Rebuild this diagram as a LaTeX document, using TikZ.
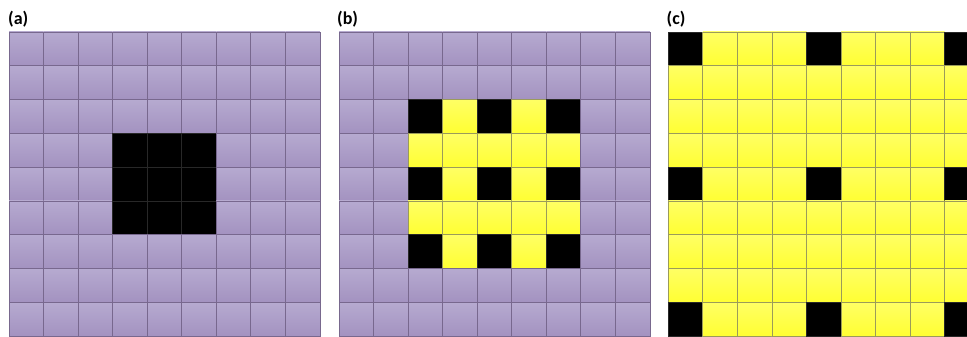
\documentclass[tikz,border=0pt]{standalone}
\usepackage{fontspec}
\setmainfont{Carlito}
\definecolor{purtop}{RGB}{182,170,208}
\definecolor{purbot}{RGB}{163,146,192}
\definecolor{purline}{RGB}{120,104,142}
\definecolor{yeltop}{RGB}{255,255,100}
\definecolor{yelbot}{RGB}{255,255,50}
\definecolor{yelline}{RGB}{155,155,90}
\definecolor{blkline}{RGB}{40,40,40}
\tikzset{
  purplecell/.style={top color=purtop,bottom color=purbot,draw=purline,line width=0.8pt},
  yellowcell/.style={top color=yeltop,bottom color=yelbot,draw=yelline,line width=0.8pt},
  blackcell/.style={fill=black,draw=blkline,line width=0.8pt},
  panellabel/.style={font=\bfseries\fontsize{18}{18}\selectfont,anchor=base west,inner sep=0pt}
}
\begin{document}
\begin{tikzpicture}[x=1pt,y=1pt]
\clip (0,0) rectangle (967,337);
\fill[white] (0,0) rectangle (967,337);
\def\cw{34.55}
\def\ch{33.8}
% panel (a)
\foreach \i in {0,...,8}{\foreach \j in {0,...,8}{
  \pgfmathtruncatemacro{\t}{(\i>2)&&(\i<6)&&(\j>2)&&(\j<6)}
  \ifnum\t=1
    \path[blackcell] ({9+\i*\cw},{305-\j*\ch}) rectangle ++(\cw,-\ch);
  \else
    \path[purplecell] ({9+\i*\cw},{305-\j*\ch}) rectangle ++(\cw,-\ch);
  \fi
}}
% panel (b)
\foreach \i in {0,...,8}{\foreach \j in {0,...,8}{
  \pgfmathtruncatemacro{\inn}{(\i>1)&&(\i<7)&&(\j>1)&&(\j<7)}
  \pgfmathtruncatemacro{\blk}{\inn && (mod(\i,2)==0) && (mod(\j,2)==0)}
  \ifnum\inn=0
    \path[purplecell] ({339+\i*\cw},{305-\j*\ch}) rectangle ++(\cw,-\ch);
  \else
    \ifnum\blk=1
      \path[blackcell] ({339+\i*\cw},{305-\j*\ch}) rectangle ++(\cw,-\ch);
    \else
      \path[yellowcell] ({339+\i*\cw},{305-\j*\ch}) rectangle ++(\cw,-\ch);
    \fi
  \fi
}}
% panel (c)
\foreach \i in {0,...,8}{\foreach \j in {0,...,8}{
  \pgfmathtruncatemacro{\blk}{(mod(\i,4)==0) && (mod(\j,4)==0)}
  \ifnum\blk=1
    \path[blackcell] ({668.3+\i*\cw},{305-\j*\ch}) rectangle ++(\cw,-\ch);
  \else
    \path[yellowcell] ({668.3+\i*\cw},{305-\j*\ch}) rectangle ++(\cw,-\ch);
  \fi
}}
\node[panellabel] (la) at (8,312) {(a)};
\node[panellabel] (lb) at (337,312) {(b)};
\node[panellabel] (lc) at (666.5,312) {(c)};
\end{tikzpicture}
\end{document}
